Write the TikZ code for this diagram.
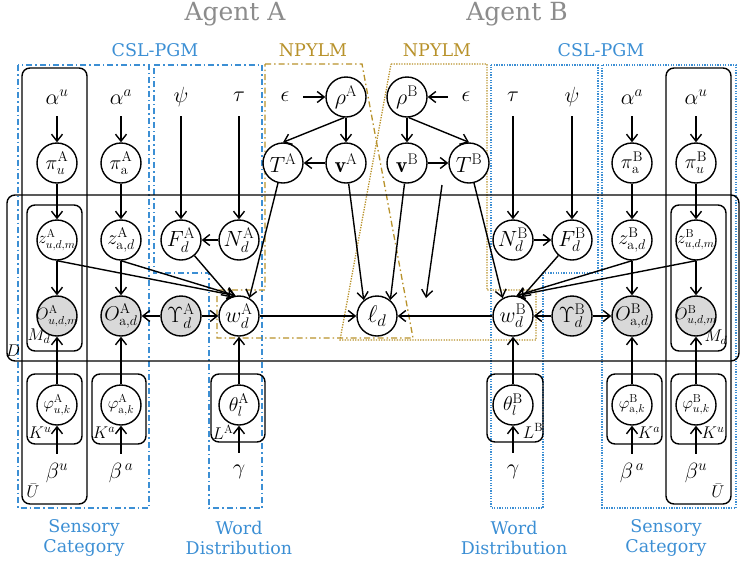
\RequirePackage{fix-cm}
\documentclass[tikz,border=0pt]{standalone}
\usepackage{fontspec}
\usetikzlibrary{arrows.meta}
\newfontfamily\labelfont{DejaVu Serif}
\definecolor{pgmblue}{RGB}{60,143,212}
\definecolor{npgold}{RGB}{184,146,43}
\definecolor{titlegray}{RGB}{140,140,140}
\definecolor{obsgray}{RGB}{217,217,217}
% zero-width math so every variable circle keeps the same size
\newcommand{\nd}[1]{\makebox[0pt]{$#1$}}
\newcommand{\Ag}{\mathrm{A}}
\newcommand{\Bg}{\mathrm{B}}
\tikzset{
  var/.style={circle, draw, line width=1.4pt, fill=white, minimum size=40pt,
    inner sep=0pt, font=\fontsize{22}{22}\selectfont},
  obs/.style={var, fill=obsgray},
  smalltxt/.style={font=\fontsize{16.5}{16.5}\selectfont},
  medtxt/.style={font=\fontsize{20}{20}\selectfont},
  hyp/.style={minimum width=24pt, minimum height=38pt, inner sep=0pt, font=\fontsize{22}{22}\selectfont},
  platebox/.style={draw, line width=1.4pt, rounded corners=8pt},
  platelabel/.style={inner sep=0pt, font=\fontsize{17}{17}\selectfont},
  edge/.style={-{Straight Barb[length=7pt,width=11pt]}, line width=1.4pt},
  bluedd/.style={draw=pgmblue, line width=1.3pt, dash pattern=on 6pt off 3pt on 1.5pt off 3pt},
  bluedot/.style={draw=pgmblue, line width=1.3pt, dash pattern=on 1.3pt off 1.3pt},
  golddd/.style={draw=npgold, line width=1.3pt, dash pattern=on 6pt off 3pt on 1.5pt off 3pt},
  golddot/.style={draw=npgold, line width=1.3pt, dash pattern=on 1.3pt off 1.3pt},
  agenttitle/.style={text=titlegray, font=\labelfont\fontsize{25}{25}\selectfont},
  grptitle/.style={font=\labelfont\fontsize{17.5}{17.5}\selectfont},
  parttitle/.style={text=pgmblue, align=center, font=\labelfont\fontsize{17.5}{20}\selectfont},
}
\begin{document}
\begin{tikzpicture}[x=1pt,y=-1pt]
\useasboundingbox (0,0) rectangle (741,563);

% ---------- group outlines ----------
\draw[bluedd] (18,65) rectangle (149,508);
\draw[bluedd] (154,65) -- (262,65) -- (262,508) -- (209,508) -- (209,273) -- (154,273) -- cycle;
\draw[bluedot] (491,65) -- (598,65) -- (598,273) -- (543,273) -- (543,508) -- (491,508) -- cycle;
\draw[bluedot] (602,65) rectangle (736,508);
\draw[golddd] (265,64) -- (362,64) -- (413,338) -- (217,338) -- (217,290) -- (265,290) -- cycle;
\draw[golddot] (391,64) -- (487,64) -- (487,290) -- (536,290) -- (536,340) -- (340,340) -- cycle;

% ---------- plates ----------
\draw[platebox] (7,195) rectangle (739,361);
\draw[platebox] (22,68) rectangle (87,504);
\draw[platebox] (27,205) rectangle (82,351);
\draw[platebox] (27,374) rectangle (82,444);
\draw[platebox] (92,374) rectangle (146,444);
\draw[platebox] (211,374) rectangle (265,442);
\draw[platebox] (487,374) rectangle (543,442);
\draw[platebox] (607,374) rectangle (662,444);
\draw[platebox] (671,374) rectangle (726,444);
\draw[platebox] (666,68) rectangle (731,504);
\draw[platebox] (671,205) rectangle (726,351);

\node[platelabel] (labD) at (13,351) {$D$};
\node[platelabel] (labUA) at (33,491) {$\bar{U}$};
\node[platelabel] (labMA) at (39,336) {$M_d$};
\node[platelabel] (labKuA) at (40,433) {$K^{u}$};
\node[platelabel] (labKaA) at (104,433) {$K^{a}$};
\node[platelabel] (labLA) at (223,432) {$L^{\mathrm{A}}$};
\node[platelabel] (labLB) at (533,431) {$L^{\mathrm{B}}$};
\node[platelabel] (labKaB) at (649,433) {$K^{a}$};
\node[platelabel] (labKuB) at (713,433) {$K^{u}$};
\node[platelabel] (labMB) at (716,337) {$M_d$};
\node[platelabel] (labUB) at (718,491) {$\bar{U}$};

% ---------- titles ----------
\node[agenttitle] (titleA) at (235,14) {Agent A};
\node[agenttitle] (titleB) at (517,14) {Agent B};
\node[grptitle, text=pgmblue] (pgmA) at (155,50) {CSL-PGM};
\node[grptitle, text=npgold] (npA) at (313,50) {NPYLM};
\node[grptitle, text=npgold] (npB) at (437,50) {NPYLM};
\node[grptitle, text=pgmblue] (pgmB) at (601,50) {CSL-PGM};
\node[parttitle] (scA) at (84,538) {Sensory\\Category};
\node[parttitle] (wdA) at (239,538) {Word\\Distribution};
\node[parttitle] (wdB) at (514,538) {Word\\Distribution};
\node[parttitle] (scB) at (666,538) {Sensory\\Category};

% ---------- agent A ----------
\node[hyp] (auA) at (57,97) {$\alpha^{u}$};
\node[hyp] (aaA) at (121,97) {$\alpha^{a}$};
\node[hyp] (psiA) at (181,97) {$\psi$};
\node[hyp] (tauA) at (239,97) {$\tau$};
\node[hyp, minimum width=36pt] (epsA) at (285,97) {$\epsilon$};
\node[var] (rhoA) at (346,97) {\nd{\rho^{\Ag}}};
\node[var, medtxt] (piuA) at (57,163) {\nd{\pi_{u}^{\Ag}}};
\node[var, medtxt] (piaA) at (121,163) {\nd{\pi_{\mathrm{a}}^{\Ag}}};
\node[var] (TA) at (283,163) {\nd{T^{\Ag}}};
\node[var] (vA) at (346,163) {\nd{\mathbf{v}^{\Ag}}};
\node[var, smalltxt] (zuA) at (57,240) {\nd{z_{u,d,m}^{\Ag}}};
\node[var, medtxt] (zaA) at (121,240) {\nd{z_{\mathrm{a},d}^{\Ag}}};
\node[var] (FA) at (181,240) {\nd{F_d^{\Ag}}};
\node[var] (NA) at (239,240) {\nd{N_d^{\Ag}}};
\node[obs, smalltxt] (OuA) at (57,316) {\nd{O_{u,d,m}^{\Ag}}};
\node[obs, medtxt] (OaA) at (121,316) {\nd{O_{\mathrm{a},d}^{\Ag}}};
\node[obs] (YA) at (181,316) {\nd{\Upsilon_d^{\Ag}}};
\node[var] (wA) at (239,316) {\nd{w_d^{\Ag}}};
\node[var, font=\fontsize{24}{24}\selectfont] (ld) at (377,316) {\nd{\ell_d}};
\node[var, smalltxt] (phiuA) at (57,405) {\nd{\varphi_{u,k}^{\Ag}}};
\node[var, smalltxt] (phiaA) at (121,405) {\nd{\varphi_{\mathrm{a},k}^{\Ag}}};
\node[var, medtxt] (thA) at (239,405) {\nd{\theta_l^{\Ag}}};
\node[hyp] (buA) at (57,473) {$\beta^{u}$};
\node[hyp] (baA) at (121,473) {$\beta^{\,a}$};
\node[hyp] (gA) at (239,472) {$\gamma$};

% ---------- agent B ----------
\node[hyp, minimum width=36pt] (epsB) at (466,97) {$\epsilon$};
\node[hyp] (tauB) at (513,97) {$\tau$};
\node[hyp] (psiB) at (572,97) {$\psi$};
\node[hyp] (aaB) at (632,97) {$\alpha^{a}$};
\node[hyp] (auB) at (696,97) {$\alpha^{u}$};
\node[var] (rhoB) at (407,97) {\nd{\rho^{\Bg}}};
\node[var] (vB) at (407,163) {\nd{\mathbf{v}^{\Bg}}};
\node[var] (TB) at (469,163) {\nd{T^{\Bg}}};
\node[var, medtxt] (piaB) at (632,163) {\nd{\pi_{\mathrm{a}}^{\Bg}}};
\node[var, medtxt] (piuB) at (696,163) {\nd{\pi_{u}^{\Bg}}};
\node[var] (NB) at (513,240) {\nd{N_d^{\Bg}}};
\node[var] (FB) at (572,240) {\nd{F_d^{\Bg}}};
\node[var, medtxt] (zaB) at (632,240) {\nd{z_{\mathrm{a},d}^{\Bg}}};
\node[var, smalltxt] (zuB) at (696,240) {\nd{z_{u,d,m}^{\Bg}}};
\node[var] (wB) at (513,316) {\nd{w_d^{\Bg}}};
\node[obs] (YB) at (572,316) {\nd{\Upsilon_d^{\Bg}}};
\node[obs, medtxt] (OaB) at (632,316) {\nd{O_{\mathrm{a},d}^{\Bg}}};
\node[obs, smalltxt] (OuB) at (696,316) {\nd{O_{u,d,m}^{\Bg}}};
\node[var, medtxt] (thB) at (513,405) {\nd{\theta_l^{\Bg}}};
\node[var, smalltxt] (phiaB) at (632,405) {\nd{\varphi_{\mathrm{a},k}^{\Bg}}};
\node[var, smalltxt] (phiuB) at (696,405) {\nd{\varphi_{u,k}^{\Bg}}};
\node[hyp] (gB) at (513,472) {$\gamma$};
\node[hyp] (baB) at (632,473) {$\beta^{\,a}$};
\node[hyp] (buB) at (696,473) {$\beta^{u}$};

% ---------- edges, agent A ----------
\draw[edge] (auA) -- (piuA);
\draw[edge] (aaA) -- (piaA);
\draw[edge] (psiA) -- (FA);
\draw[edge] (tauA) -- (NA);
\draw[edge] (epsA) -- (rhoA);
\draw[edge] (rhoA) -- (vA);
\draw[edge] (rhoA.265) -- (TA.north);
\draw[edge] (vA) -- (TA);
\draw[edge] (piuA) -- (zuA);
\draw[edge] (piaA) -- (zaA);
\draw[edge] (NA) -- (FA);
\draw[edge] (zuA) -- (OuA);
\draw[edge] (zaA) -- (OaA);
\draw[edge] (YA) -- (OaA);
\draw[edge] (YA) -- (wA);
\draw[edge] (phiuA) -- (OuA);
\draw[edge] (phiaA) -- (OaA);
\draw[edge] (thA) -- (wA);
\draw[edge] (buA) -- (phiuA);
\draw[edge] (baA) -- (phiaA);
\draw[edge] (gA) -- (thA);
\draw[edge] (zuA.south) -- (wA.100);
\draw[edge] (zaA.south) -- (wA.100);
\draw[edge] (FA) -- (wA.115);
\draw[edge] (TA) -- (wA.60);

% ---------- shared word ----------
\draw[edge] (wA) -- (ld);
\draw[edge] (wB) -- (ld);
\draw[edge] (vA) -- (ld.130);
\draw[edge] (vB) -- (ld.50);
\coordinate (freeTop) at (442,185);
\coordinate (freeEnd) at (426,298);
\draw[edge] (freeTop) -- (freeEnd);

% ---------- edges, agent B ----------
\draw[edge] (epsB) -- (rhoB);
\draw[edge] (rhoB) -- (vB);
\draw[edge] (rhoB.275) -- (TB.north);
\draw[edge] (vB) -- (TB);
\draw[edge] (tauB) -- (NB);
\draw[edge] (psiB) -- (FB);
\draw[edge] (NB) -- (FB);
\draw[edge] (aaB) -- (piaB);
\draw[edge] (auB) -- (piuB);
\draw[edge] (piaB) -- (zaB);
\draw[edge] (piuB) -- (zuB);
\draw[edge] (zaB) -- (OaB);
\draw[edge] (zuB) -- (OuB);
\draw[edge] (YB) -- (wB);
\draw[edge] (YB) -- (OaB);
\draw[edge] (FB) -- (wB.65);
\draw[edge] (zaB.south) -- (wB.80);
\draw[edge] (zuB.south) -- (wB.80);
\draw[edge] (TB) -- (wB.120);
\draw[edge] (thB) -- (wB);
\draw[edge] (gB) -- (thB);
\draw[edge] (phiaB) -- (OaB);
\draw[edge] (phiuB) -- (OuB);
\draw[edge] (baB) -- (phiaB);
\draw[edge] (buB) -- (phiuB);
\end{tikzpicture}
\end{document}
